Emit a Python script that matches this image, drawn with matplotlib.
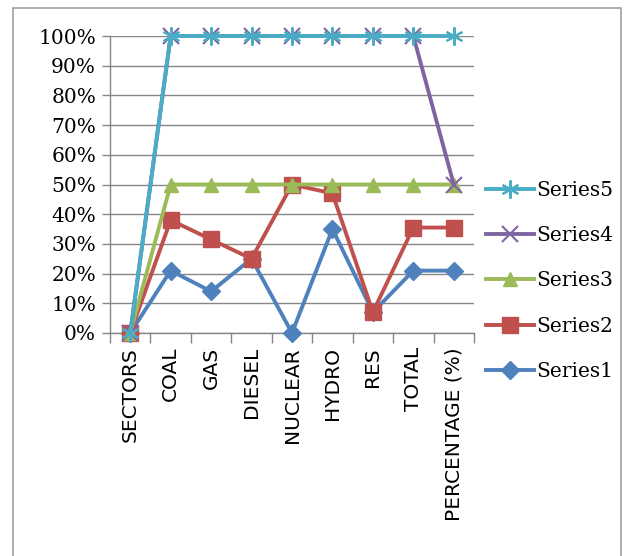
import numpy as np
import matplotlib.pyplot as plt
from matplotlib.patches import Rectangle

# categories and per-series shares (100% stacked line chart)
sectors = ["SECTORS", "COAL", "GAS", "DIESEL", "NUCLEAR", "HYDRO", "RES", "TOTAL", "PERCENTAGE (%)"]
series1 = [0, 21, 14, 25, 0, 35, 7, 21, 21]
series2 = [0, 17, 17.5, 0, 50, 12, 0, 14.5, 14.5]
series3 = [0, 12, 18.5, 25, 0, 3, 43, 14.5, 14.5]
series4 = [0, 50, 50, 50, 50, 50, 50, 50, 0]
series5 = [0, 0, 0, 0, 0, 0, 0, 0, 50]
series_names = ["Series1", "Series2", "Series3", "Series4", "Series5"]

colors = ["#4F81BD", "#C0504D", "#9BBB59", "#8064A2", "#4BACC6"]
markers = ["D", "s", "^", "x", (6, 2, 0)]
msizes = [9.5, 11, 10, 11, 13]

fig = plt.figure(figsize=(6.24, 5.56), dpi=100)
fig.patches.append(Rectangle((13 / 624, -0.05), (621 - 13) / 624, 1.05 - 8 / 556,
                             transform=fig.transFigure, fill=False,
                             edgecolor="#a0a0a0", linewidth=1.2))
ax = fig.add_axes([110 / 624, 1 - 333 / 556, 364 / 624, 297 / 556])

x = np.arange(len(sectors))
data = np.array([series1, series2, series3, series4, series5], dtype=float)
totals = data.sum(axis=0)
totals[totals == 0] = 1
cum = np.cumsum(data, axis=0) / totals * 100

lines = []
for i in range(5):
    ln, = ax.plot(x, cum[i], color=colors[i], marker=markers[i], ms=msizes[i],
                  lw=2.8, mew=1.5 if i >= 3 else 1, label=series_names[i],
                  clip_on=False, zorder=3 + i)
    lines.append(ln)

ax.set_xlim(-0.5, len(sectors) - 0.5)
ax.set_ylim(0, 100)
ax.set_yticks(np.arange(0, 101, 10))
ax.set_yticklabels([f"{v}%" for v in range(0, 101, 10)], family="DejaVu Serif", fontsize=14.5)
ax.yaxis.grid(True, color="#868686", lw=1)
ax.set_axisbelow(True)

ax.set_xticks(x)
ax.set_xticklabels(sectors, rotation=90, fontsize=14.5)
ax.set_xticks(np.arange(-0.5, len(sectors), 1), minor=True)
ax.tick_params(axis="x", which="major", length=0, pad=10)
ax.tick_params(axis="x", which="minor", length=7, color="#868686", width=1)
ax.tick_params(axis="y", length=6, color="#868686", width=1, pad=4)

for s in ["top", "right"]:
    ax.spines[s].set_visible(False)
for s in ["left", "bottom"]:
    ax.spines[s].set_color("#868686")
    ax.spines[s].set_linewidth(1)

leg = fig.legend(lines[::-1], series_names[::-1], loc="center left",
                 bbox_to_anchor=(478 / 624, 1 - 281 / 556), frameon=False,
                 prop={"family": "DejaVu Serif", "size": 14.5},
                 handlelength=2.4, handletextpad=0.1, labelspacing=1.3,
                 borderaxespad=0)

fig.savefig("out.png", dpi=100)
